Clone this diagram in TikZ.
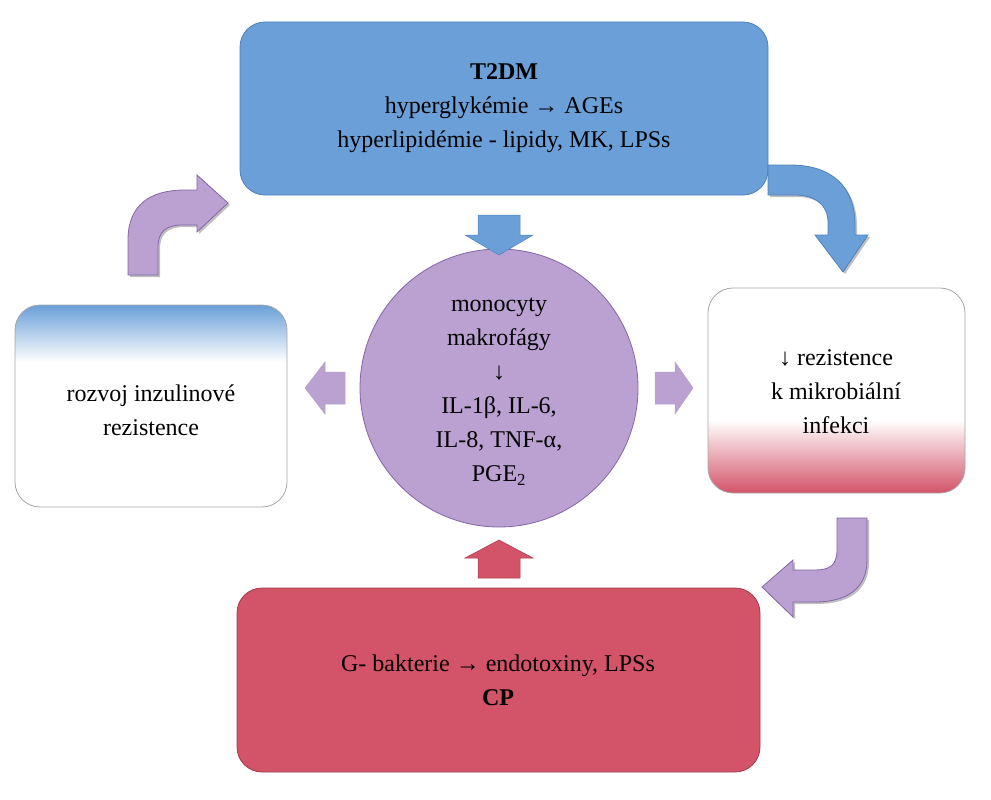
\documentclass[tikz,border=0pt]{standalone}
\usepackage{fontspec}
\setmainfont{Liberation Serif}
\usetikzlibrary{shadows}
\definecolor{tblue}{HTML}{6A9FD8}
\definecolor{tbluel}{HTML}{4F80BD}
\definecolor{tred}{HTML}{D35468}
\definecolor{tredd}{HTML}{A33A4C}
\definecolor{tpur}{HTML}{BBA0D2}
\definecolor{tpurd}{HTML}{8465A8}
\begin{document}
\begin{tikzpicture}[x=1pt,y=-1pt,
  box/.style={rounded corners=25pt,line width=0.8pt},
  txt/.style={font=\fontsize{24}{34}\selectfont,align=center,inner sep=0pt},
  barrow/.style={line width=0.8pt,drop shadow={shadow xshift=2pt,shadow yshift=-2pt,opacity=0.5}}]
\useasboundingbox (0,0) rectangle (991,800);
% boxes
\draw[box,fill=tblue,draw=tbluel] (240,22) rectangle (768,195);
\node[txt] (top) at (504,108) {\textbf{T2DM}\\hyperglykémie → AGEs\\hyperlipidémie - lipidy, MK, LPSs};
\draw[box,fill=tred,draw=tredd] (237,588) rectangle (760,772);
\node[txt] (bot) at (498,680) {G- bakterie → endotoxiny, LPSs\\\textbf{CP}};
\begin{scope}
\clip[rounded corners=25pt] (15,305) rectangle (287,507);
\fill[white] (15,305) rectangle (287,507);
\shade[top color=tblue,bottom color=white] (15,305) rectangle (287,362);
\end{scope}
\draw[box,draw=gray!70] (15,305) rectangle (287,507);
\node[txt] (left) at (151,410) {rozvoj inzulinové\\rezistence};
\begin{scope}
\clip[rounded corners=25pt] (708,288) rectangle (965,493);
\fill[white] (708,288) rectangle (965,493);
\shade[top color=white,bottom color=tred] (708,420) rectangle (965,493);
\end{scope}
\draw[box,draw=gray!70] (708,288) rectangle (965,493);
\node[txt] (right) at (836,392) {↓ rezistence\\k mikrobiální\\infekci};
% circle
\draw[fill=tpur,draw=tpurd,line width=0.8pt] (499,388) circle[radius=139];
\node[txt] (mid) at (499,392) {monocyty\\makrofágy\\↓\\IL-1β, IL-6,\\IL-8, TNF-α,\\PGE\textsubscript{2}};
% small arrows
\fill[tblue,draw=tbluel,line width=0.5pt] (478,215)--(520,215)--(520,235)--(533,235)--(499,255)--(465,235)--(478,235)--cycle;
\fill[tred,draw=tredd,line width=0.5pt] (478,578)--(520,578)--(520,558)--(533,558)--(499,540)--(465,558)--(478,558)--cycle;
\fill[tpur,draw=tpurd!60,line width=0.5pt] (345,372)--(325,372)--(325,362)--(305,388)--(325,414)--(325,404)--(345,404)--cycle;
\fill[tpur,draw=tpurd!60,line width=0.5pt] (655,372)--(675,372)--(675,362)--(693,388)--(675,414)--(675,404)--(655,404)--cycle;
% bent arrows
\filldraw[barrow,fill=tpur,draw=tpurd] (128,275)--(128,240) .. controls (128,205) and (150,190) .. (185,190)--(197,190)--(197,175)--(228,203)--(197,232)--(197,225)--(182,225) .. controls (166,225) and (158,232) .. (158,247)--(158,275)--cycle;
\filldraw[barrow,fill=tblue,draw=tbluel] (768,165)--(790,165) .. controls (830,165) and (855,185) .. (855,225)--(855,235)--(868,235)--(843,272)--(815,235)--(828,235)--(828,222) .. controls (828,205) and (815,195) .. (795,195)--(768,195)--cycle;
\filldraw[barrow,fill=tpur,draw=tpurd] (837,518)--(867,518)--(867,560) .. controls (867,590) and (845,602) .. (815,602)--(793,602)--(793,617)--(762,587)--(793,560)--(793,570)--(815,570) .. controls (830,570) and (837,565) .. (837,550)--cycle;
\end{tikzpicture}
\end{document}
